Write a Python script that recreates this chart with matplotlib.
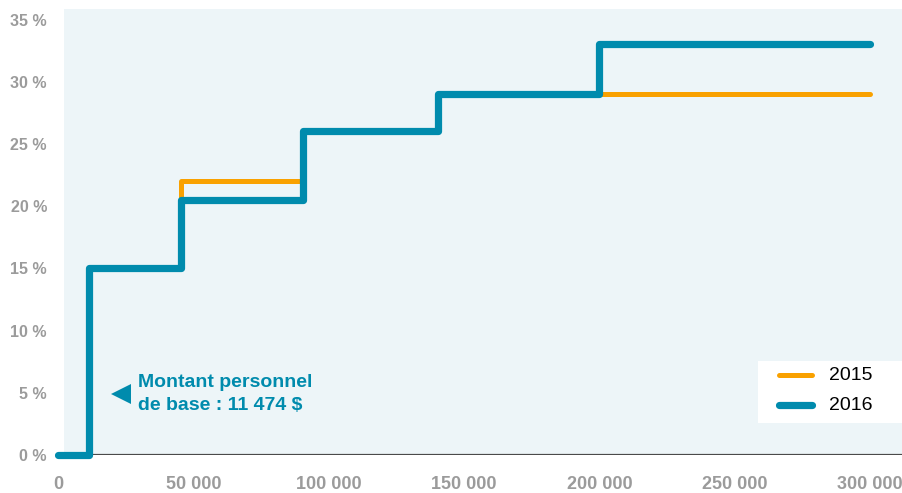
import matplotlib
matplotlib.use("Agg")
import matplotlib.pyplot as plt
from matplotlib.patches import Rectangle
from matplotlib.lines import Line2D

# Federal marginal tax rate by taxable income
income_2015 = [0, 11474, 45282, 90563, 140388, 300000]
rate_2015 = [0, 15, 22, 26, 29, 29]
income_2016 = [0, 11474, 45282, 90563, 140388, 200000, 300000]
rate_2016 = [0, 15, 20.5, 26, 29, 33, 33]
series_names = ["2015", "2016"]

x_ticks = [0, 50000, 100000, 150000, 200000, 250000, 300000]
x_labels = ["0", "50 000", "100 000", "150 000", "200 000", "250 000", "300 000"]
y_ticks = [0, 5, 10, 15, 20, 25, 30, 35]
y_labels = ["0 %", "5 %", "10 %", "15 %", "20 %", "25 %", "30 %", "35 %"]

note_text = "Montant personnel\nde base : 11 474 $"
note_x, note_y = 23300, 4.9

ORANGE = "#F9A100"
TEAL = "#008BAD"
BG = "#EDF5F8"
GREY = "#9B9B9B"

plt.rcParams["font.family"] = ["Liberation Sans", "DejaVu Sans"]

W, H = 903, 493
fig = plt.figure(figsize=(W / 100, H / 100), dpi=100)
left_px, right_px, top_px, bottom_px = 58, 903, 9, 455
ax = fig.add_axes([left_px / W, 1 - bottom_px / H,
                   (right_px - left_px) / W, (bottom_px - top_px) / H])
ax.set_facecolor("none")

px_per_x = (870 - 58) / 300000
px_per_y = (455 - 19.5) / 35
ax.set_xlim(0, (right_px - left_px) / px_per_x)
ax.set_ylim(0, (bottom_px - top_px) / px_per_y)

# panel background starts a few pixels right of the origin
bg_start = 6 / (right_px - left_px)
ax.add_patch(Rectangle((bg_start, 0), 1 - bg_start, 1, transform=ax.transAxes,
                       facecolor=BG, edgecolor="none", zorder=0))
ax.axhline(0, xmin=bg_start, xmax=1, color="#4A4A4A", lw=1.6, zorder=1)

for s in ax.spines.values():
    s.set_visible(False)

ax.step(income_2015, rate_2015, where="post", color=ORANGE, lw=3.6,
        solid_joinstyle="round", solid_capstyle="round", clip_on=False, zorder=3)
ax.step(income_2016, rate_2016, where="post", color=TEAL, lw=5.2,
        solid_joinstyle="round", solid_capstyle="round", clip_on=False, zorder=4)

ax.set_xticks(x_ticks)
ax.set_xticklabels(x_labels)
ax.set_yticks(y_ticks)
ax.set_yticklabels(y_labels)
ax.tick_params(length=0, labelcolor=GREY)
ax.tick_params(axis="x", pad=15, labelsize=13)
ax.tick_params(axis="y", pad=8, labelsize=11.5)
for lbl in ax.get_xticklabels() + ax.get_yticklabels():
    lbl.set_fontweight("bold")

ax.plot([note_x], [note_y], marker="<", color=TEAL, markersize=14,
        markeredgewidth=0, zorder=5)
ax.text(29700, note_y, note_text, color=TEAL, fontsize=14, fontweight="bold",
        va="center", ha="left", linespacing=1.45, zorder=5)

# legend box drawn in figure pixel coordinates
def fx(px):
    return px / W

def fy(py):
    return 1 - py / H

fig.patches.append(Rectangle((fx(758), fy(423)), fx(903) - fx(758), fy(361) - fy(423),
                             transform=fig.transFigure, facecolor="white",
                             edgecolor="none", zorder=6))
for name, color, lw, row_y in [(series_names[0], ORANGE, 3.6, 375),
                               (series_names[1], TEAL, 5.2, 405)]:
    fig.add_artist(Line2D([fx(779), fx(812)], [fy(row_y), fy(row_y)],
                          transform=fig.transFigure, color=color, lw=lw,
                          solid_capstyle="round", zorder=7))
    fig.text(fx(829), fy(row_y), name, fontsize=14, color="black",
             va="center", ha="left", zorder=7)

fig.savefig("out.png", dpi=100)
